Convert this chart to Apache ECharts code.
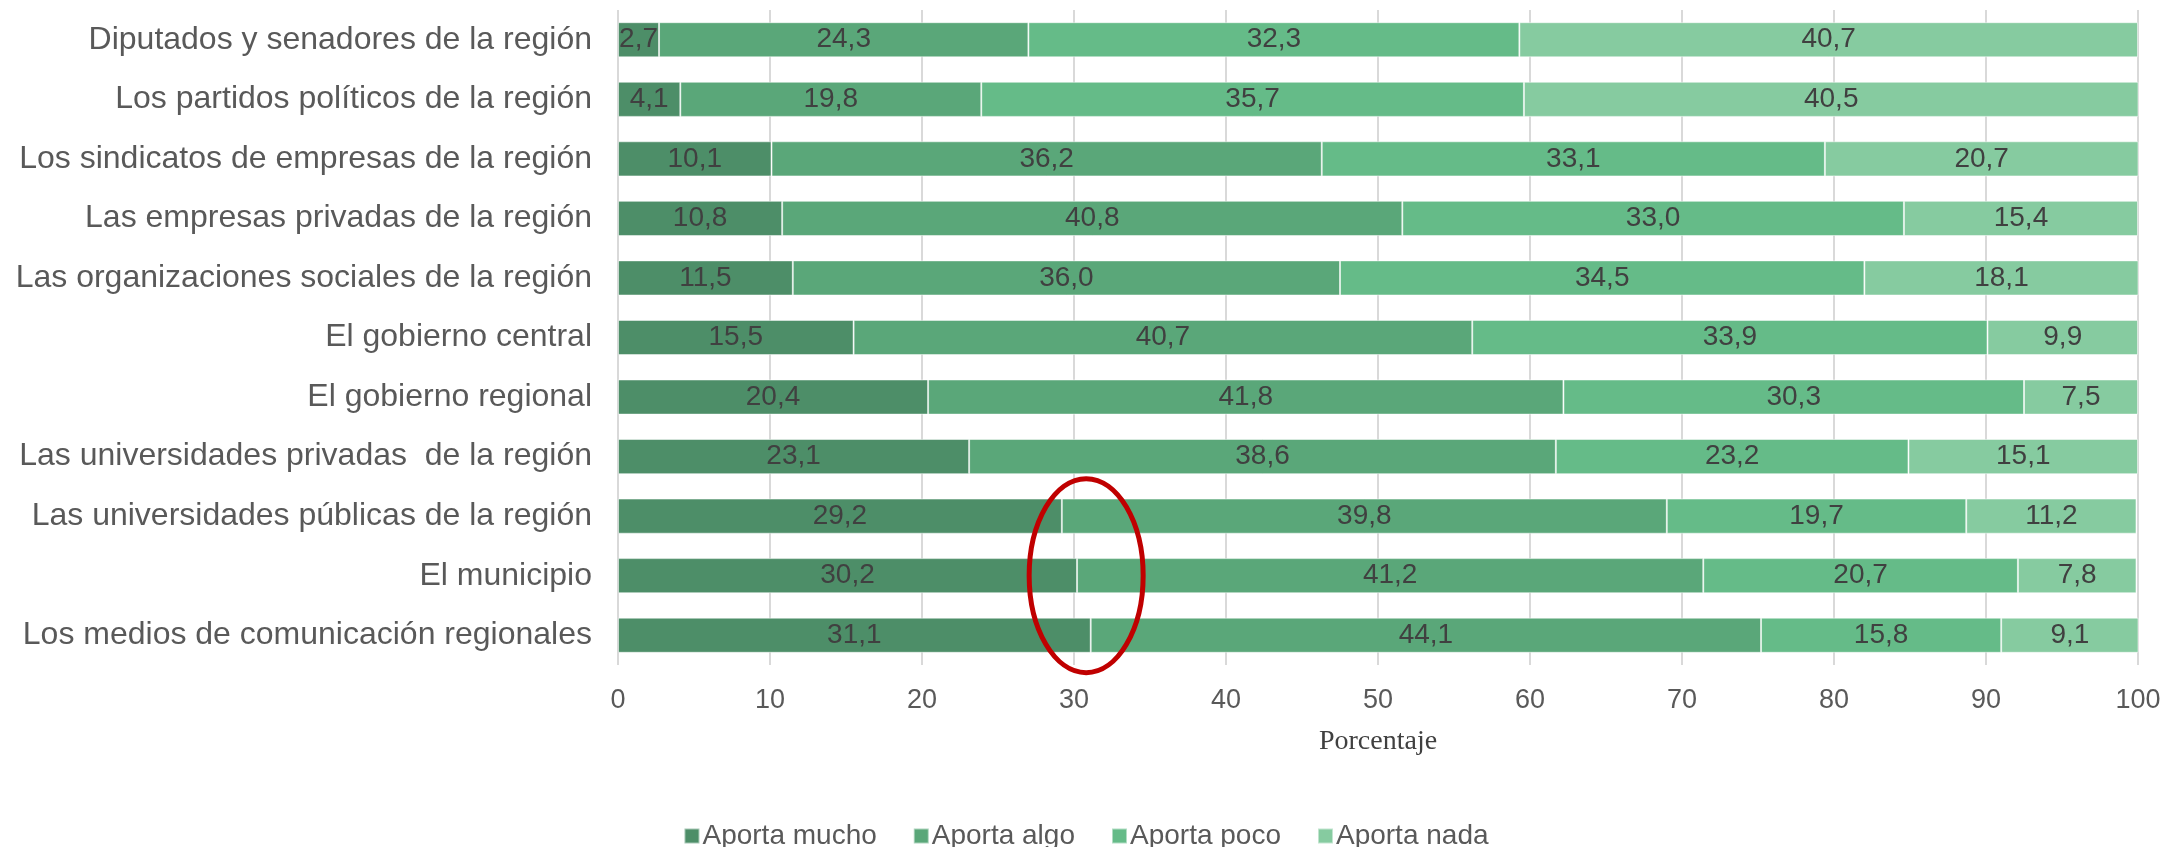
<!DOCTYPE html>
<html>
<head>
<meta charset="utf-8">
<script src="https://cdn.jsdelivr.net/npm/echarts@6/dist/echarts.min.js"></script>
<style>
  html, body { margin: 0; padding: 0; background: #fff; }
  #chart { width: 2172px; height: 847px; }
</style>
</head>
<body>
<div id="chart"></div>
<script>
const categories = [
  'Diputados y senadores de la región',
  'Los partidos políticos de la región',
  'Los sindicatos de empresas de la región',
  'Las empresas privadas de la región',
  'Las organizaciones sociales de la región',
  'El gobierno central',
  'El gobierno regional',
  'Las universidades privadas  de la región',
  'Las universidades públicas de la región',
  'El municipio',
  'Los medios de comunicación regionales'
]
const seriesNames = ['Aporta mucho', 'Aporta algo', 'Aporta poco', 'Aporta nada']
const aportaMucho = [2.7, 4.1, 10.1, 10.8, 11.5, 15.5, 20.4, 23.1, 29.2, 30.2, 31.1]
const aportaAlgo = [24.3, 19.8, 36.2, 40.8, 36.0, 40.7, 41.8, 38.6, 39.8, 41.2, 44.1]
const aportaPoco = [32.3, 35.7, 33.1, 33.0, 34.5, 33.9, 30.3, 23.2, 19.7, 20.7, 15.8]
const aportaNada = [40.7, 40.5, 20.7, 15.4, 18.1, 9.9, 7.5, 15.1, 11.2, 7.8, 9.1]
const colors = ['#4d8e68', '#5aa779', '#65bb88', '#86cba0']

// red ellipse annotation, centred on the 30 % line at "El municipio"
const highlightValue = 30.8
const highlightCategory = 'El municipio'

const seriesData = [aportaMucho, aportaAlgo, aportaPoco, aportaNada]
const fmt = v => v.toFixed(1).replace('.', ',')

const chart = echarts.init(document.getElementById('chart'))

const option = {
  animation: false,
  textStyle: { fontFamily: 'Liberation Sans, Arial, sans-serif' },
  grid: { left: 618, right: 34, top: 10, bottom: 182 },
  legend: {
    data: seriesNames,
    left: 'center',
    top: 817,
    icon: 'rect',
    itemWidth: 15,
    itemHeight: 15,
    itemGap: 36,
    textStyle: { color: '#595959', fontSize: 28, padding: [0, 0, 0, -2] }
  },
  xAxis: {
    type: 'value',
    min: 0,
    max: 100,
    interval: 10,
    name: 'Porcentaje',
    nameLocation: 'middle',
    nameGap: 63,
    nameTextStyle: { fontFamily: 'Liberation Serif, Times New Roman, serif', fontSize: 28, color: '#404040' },
    axisLine: { show: false },
    axisTick: { show: false },
    axisLabel: { color: '#595959', fontSize: 27, margin: 22 },
    splitLine: { lineStyle: { color: '#d9d9d9', width: 2 } }
  },
  yAxis: {
    type: 'category',
    data: categories,
    inverse: true,
    axisLine: { show: false },
    axisTick: { show: false },
    axisLabel: { color: '#595959', fontSize: 32, margin: 26 }
  },
  series: seriesNames.map((name, i) => ({
    name: name,
    type: 'bar',
    stack: 'total',
    barWidth: '59%',
    data: seriesData[i],
    itemStyle: { color: colors[i], borderColor: 'rgba(255,255,255,0.5)', borderWidth: 1 },
    label: {
      show: true,
      position: 'inside',
      color: '#404040',
      fontSize: 28,
      formatter: p => fmt(p.value)
    }
  }))
}

chart.setOption(option)

const center = chart.convertToPixel({ xAxisIndex: 0, yAxisIndex: 0 }, [highlightValue, highlightCategory])
chart.setOption({
  graphic: [{
    type: 'ellipse',
    shape: { cx: center[0], cy: center[1], rx: 57, ry: 97 },
    style: { fill: 'none', stroke: '#c00000', lineWidth: 5 },
    z: 100
  }]
})
</script>
</body>
</html>
